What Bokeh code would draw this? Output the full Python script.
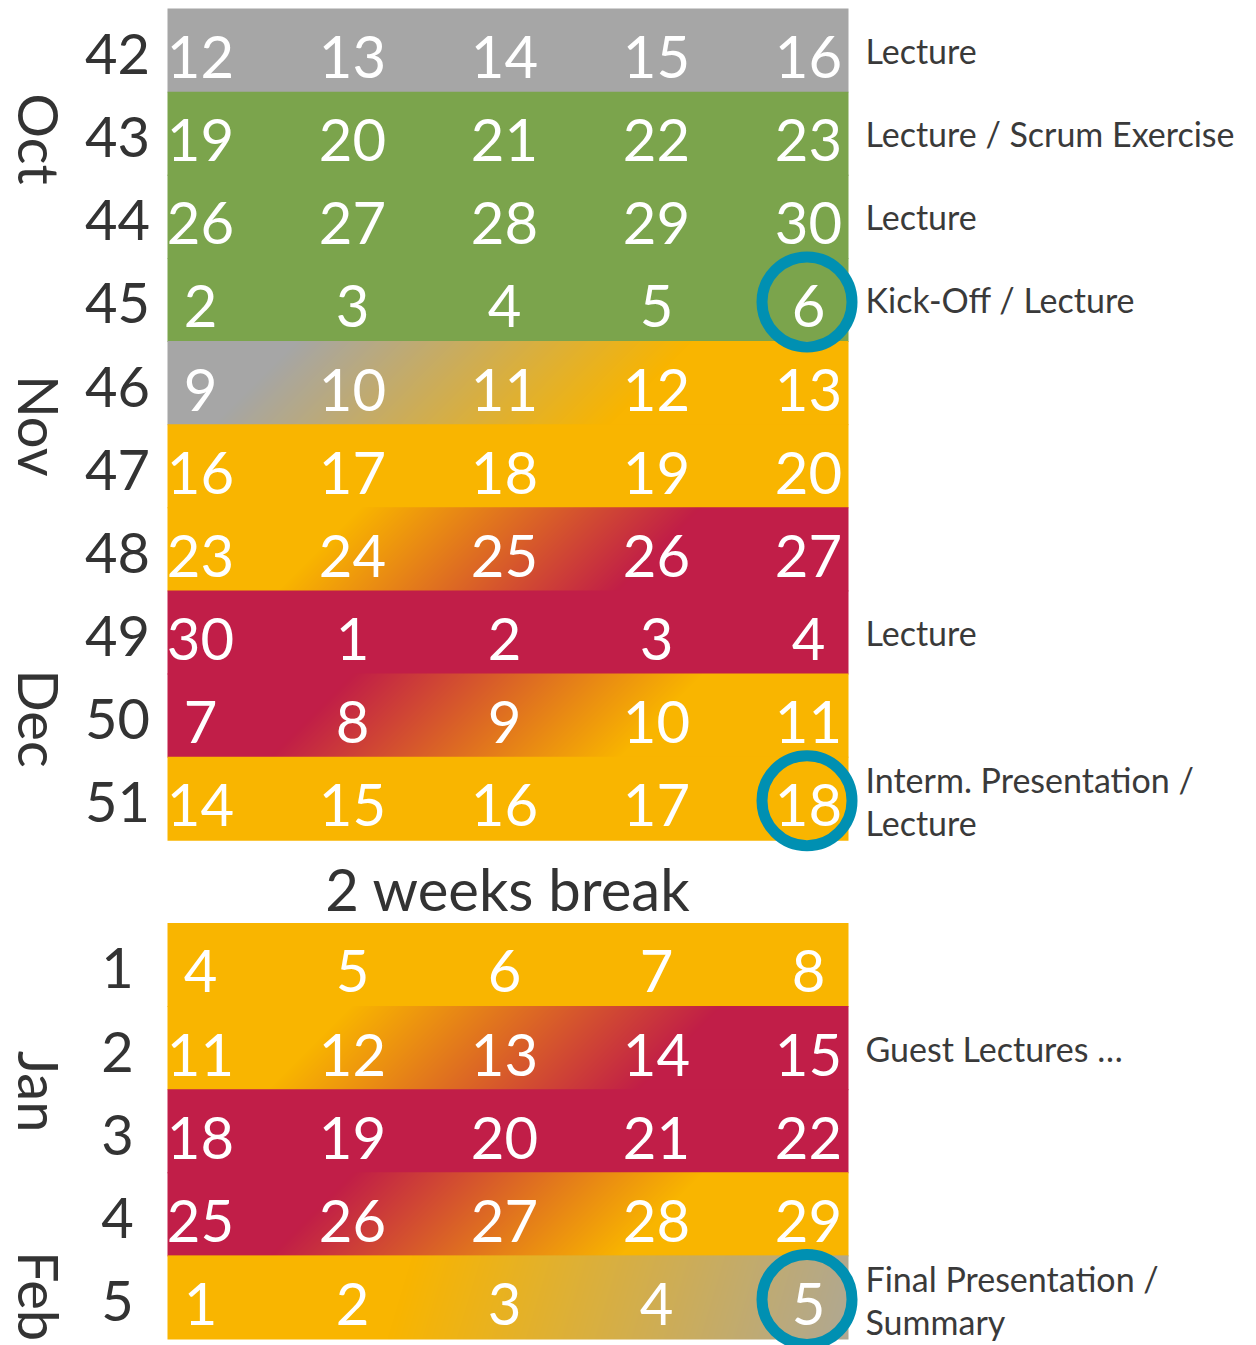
import math
import numpy as np
from bokeh.plotting import figure
from bokeh.models import Range1d
from bokeh.core.properties import value
from bokeh.embed import file_html
from bokeh.resources import INLINE

# ---------------- data ----------------
week_numbers = [42, 43, 44, 45, 46, 47, 48, 49, 50, 51, 1, 2, 3, 4, 5]
week_days = [
    [12, 13, 14, 15, 16],
    [19, 20, 21, 22, 23],
    [26, 27, 28, 29, 30],
    [2, 3, 4, 5, 6],
    [9, 10, 11, 12, 13],
    [16, 17, 18, 19, 20],
    [23, 24, 25, 26, 27],
    [30, 1, 2, 3, 4],
    [7, 8, 9, 10, 11],
    [14, 15, 16, 17, 18],
    [4, 5, 6, 7, 8],
    [11, 12, 13, 14, 15],
    [18, 19, 20, 21, 22],
    [25, 26, 27, 28, 29],
    [1, 2, 3, 4, 5],
]
# phase colour at start (left) and end (right) of each week row
phase_from = ["gray", "green", "green", "green", "gray", "orange", "orange", "crimson",
              "crimson", "orange", "orange", "orange", "crimson", "crimson", "orange"]
phase_to = ["gray", "green", "green", "green", "orange", "orange", "crimson", "crimson",
            "orange", "orange", "orange", "crimson", "crimson", "orange", "gray"]
annotations = {
    42: "Lecture",
    43: "Lecture / Scrum Exercise",
    44: "Lecture",
    45: "Kick-Off / Lecture",
    49: "Lecture",
    51: "Interm. Presentation /\nLecture",
    2: "Guest Lectures …",
    5: "Final Presentation /\nSummary",
}
milestones = [(45, 6), (51, 18), (5, 5)]
months = ["Oct", "Nov", "Dec", "Jan", "Feb"]
break_label = "2 weeks break"
break_after_week = 51

# ---------------- style / layout ----------------
COLORS = {
    "gray": (166, 166, 166),
    "green": (123, 164, 76),
    "orange": (249, 181, 0),
    "crimson": (193, 30, 72),
}
RING = "#0090B2"
DARK = "#333333"
TEXT = "#3a3a3a"
FONT = value("Lato")

W_FIG, H_FIG = 1256, 1345
TOP_PX = 8                    # screen y of first row top
GX0, GX1 = 167, 848           # grid left/right (px)
ROW_PX = 83.125               # row height in px
N_ROWS = 16
DAY_X0, DAY_DX = 200, 152     # day number centres
WEEK_X = 117
MONTH_X = 39
ANNOT_X = 865
# month label centres in row units from top
month_rows = [1.57, 5.02, 8.54, 13.03, 15.49]
# gradient geometry (t0, t1 in px along x at row middle, slope)
grad_geom = {46: (255, 650, 1.0), 48: (320, 660, 1.0), 50: (310, 660, 1.0),
             2: (310, 680, 1.0), 4: (310, 660, 1.0), 5: (400, 920, 0.3)}


def row_top(r):
    # data y: rows count from the top, top of first row = N_ROWS
    return N_ROWS - r


def px(v):
    return v / ROW_PX


p = figure(width=W_FIG, height=H_FIG,
           x_range=Range1d(0, W_FIG),
           y_range=Range1d(N_ROWS - (H_FIG - TOP_PX) / ROW_PX, N_ROWS + TOP_PX / ROW_PX),
           output_backend="svg", toolbar_location=None,
           x_axis_location=None, y_axis_location=None,
           min_border=0)
p.grid.visible = False
p.outline_line_color = None
p.background_fill_color = "white"
p.border_fill_color = "white"

break_idx = week_numbers.index(break_after_week)
rows = [i if i <= break_idx else i + 1 for i in range(len(week_numbers))]


def hexc(c):
    return "#%02x%02x%02x" % c


def gradient_image(c0, c1, t0, t1, slope):
    W = GX1 - GX0
    H = int(round(ROW_PX)) + 1
    xs = GX0 + np.arange(W) + 0.5
    yd = np.arange(H) + 0.5
    t = xs[None, :] + slope * (yd[:, None] - H / 2)
    f = np.clip((t - t0) / (t1 - t0), 0, 1)[..., None]
    rgb = np.array(c0)[None, None, :] * (1 - f) + np.array(c1)[None, None, :] * f
    rgb = rgb[::-1]  # image row 0 is the bottom
    img = np.empty((H, W), dtype=np.uint32)
    view = img.view(dtype=np.uint8).reshape((H, W, 4))
    view[..., 0] = rgb[..., 0].astype(np.uint8)
    view[..., 1] = rgb[..., 1].astype(np.uint8)
    view[..., 2] = rgb[..., 2].astype(np.uint8)
    view[..., 3] = 255
    return img


# row backgrounds
for i, w in enumerate(week_numbers):
    r = rows[i]
    top = row_top(r)
    a, b = phase_from[i], phase_to[i]
    if a == b:
        p.quad(left=GX0, right=GX1, top=top, bottom=top - 1 - 0.012,
               fill_color=hexc(COLORS[a]), line_color=None)
    else:
        t0, t1, s = grad_geom[w]
        img = gradient_image(COLORS[a], COLORS[b], t0, t1, s)
        p.image_rgba(image=[img], x=GX0, y=top - 1 - 0.012, dw=GX1 - GX0, dh=1 + 0.012)

# day numbers
dx, dy, dt = [], [], []
for i, days in enumerate(week_days):
    r = rows[i]
    for j, d in enumerate(days):
        dx.append(DAY_X0 + DAY_DX * j)
        dy.append(row_top(r) - px(48.5))
        dt.append(str(d))
p.text(x=dx, y=dy, text=dt, text_font=FONT, text_font_size=value("58px"),
       text_color="white", text_align="center", text_baseline="middle")

# week numbers
p.text(x=[WEEK_X] * len(week_numbers), y=[row_top(r) - px(45.5) for r in rows],
       text=[str(w) for w in week_numbers], text_font=FONT, text_font_size=value("56px"),
       text_color=DARK, text_align="center", text_baseline="middle")

# months (rotated)
p.text(x=[MONTH_X] * len(months), y=[N_ROWS - m for m in month_rows], text=months,
       angle=-math.pi / 2, text_font=FONT, text_font_size=value("56px"),
       text_color=DARK, text_align="center", text_baseline="middle")

# break label
p.text(x=[(GX0 + GX1) / 2], y=[row_top(break_idx + 1) - px(49)], text=[break_label],
       text_font=FONT, text_font_size=value("58px"), text_color=DARK,
       text_align="center", text_baseline="middle")

# annotations
ax, ay, at = [], [], []
for w, label in annotations.items():
    r = rows[week_numbers.index(w)]
    lines = label.split("\n")
    offs = [42] if len(lines) == 1 else [23, 66]
    for ln, o in zip(lines, offs):
        ax.append(ANNOT_X)
        ay.append(row_top(r) - px(o))
        at.append(ln)
p.text(x=ax, y=ay, text=at, text_font=FONT, text_font_size=value("34px"),
       text_color=TEXT, text_align="left", text_baseline="middle")

# milestone rings
mx, my = [], []
for w, d in milestones:
    i = week_numbers.index(w)
    j = week_days[i].index(d)
    mx.append(DAY_X0 + DAY_DX * j - 1.5)
    my.append(row_top(rows[i]) - 0.5 - px(2.5))
p.scatter(x=mx, y=my, marker="circle", size=90, fill_alpha=0,
          line_color=RING, line_width=11)

open("out.html", "w").write(file_html(p, INLINE))
